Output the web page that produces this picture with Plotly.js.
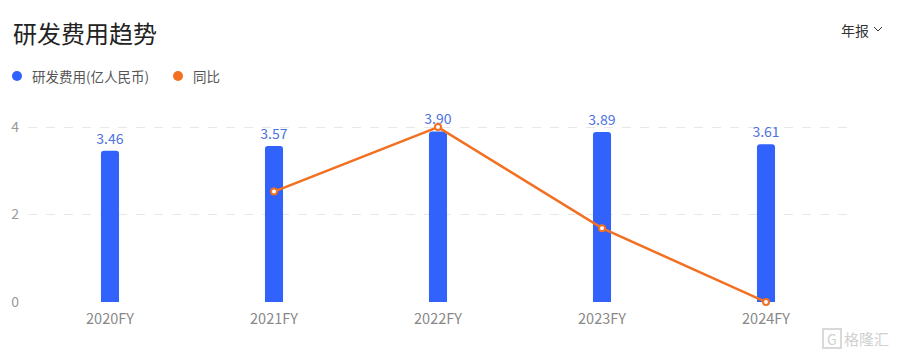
<!DOCTYPE html>
<html>
<head>
<meta charset="utf-8">
<script src="https://cdn.plot.ly/plotly-3.0.1.min.js"></script>
<style>
html,body{margin:0;padding:0;background:#fff;}
#chart{width:897px;height:354px;}
</style>
</head>
<body>
<div id="chart"></div>
<script>
const categories = ["2020FY", "2021FY", "2022FY", "2023FY", "2024FY"];
const rdExpense = [3.46, 3.57, 3.90, 3.89, 3.61];
const yoyCategories = ["2021FY", "2022FY", "2023FY", "2024FY"];
const yoyPct = [3.18, 9.24, -0.26, -7.20];
const yTicks = [0, 2, 4];
const seriesNames = ["研发费用(亿人民币)", "同比"];

const FONT = '"Noto Sans CJK SC", "Noto Sans", sans-serif';
const BLUE = '#3162fb';
const ORANGE = '#f27022';

const traces = [
  {
    type: 'bar', x: categories, y: rdExpense, name: seriesNames[0],
    marker: {color: BLUE, cornerradius: 3}, width: 0.11,
    text: rdExpense.map(v => v.toFixed(2)), textposition: 'outside', constraintext: 'none',
    textfont: {color: '#4d72e3', size: 14, family: FONT},
    cliponaxis: false, showlegend: false, hoverinfo: 'skip'
  },
  {
    type: 'scatter', mode: 'lines+markers', x: yoyCategories, y: yoyPct, yaxis: 'y2',
    name: seriesNames[1], line: {color: ORANGE, width: 2.5},
    marker: {size: 6, color: '#fff', line: {color: ORANGE, width: 2}},
    cliponaxis: false, showlegend: false, hoverinfo: 'skip'
  }
];

const yMax = 4.3;
const y2Min = -7.2, y2PerUnit = (9.24 - (-7.2)) / 4;

const L = 28, R = 49, T = 114, B = 52, W = 897, H = 354;
const plotW = W - L - R, plotH = H - T - B;
function px(xp){ return (xp - L) / plotW; }
function py(yp){ return (H - B - yp) / plotH; }

const layout = {
  width: W, height: H,
  margin: {l: L, r: R, t: T, b: B},
  paper_bgcolor: '#fff', plot_bgcolor: '#fff',
  font: {family: FONT, color: '#888', size: 14},
  showlegend: false,
  xaxis: {type: 'category', range: [-0.5, 4.5], showgrid: false, zeroline: false, showline: false,
    ticks: '', tickfont: {size: 14.5, color: '#888'}, ticklabelstandoff: 6, fixedrange: true},
  yaxis: {range: [0, yMax], tickvals: yTicks, ticktext: yTicks.map(String), showgrid: true,
    gridcolor: '#e8e8e8', griddash: 'dash', gridwidth: 1, zeroline: false, showline: false,
    ticks: '', tickfont: {size: 14, color: '#999'}, ticklabelstandoff: 8, fixedrange: true},
  yaxis2: {overlaying: 'y', side: 'right', range: [y2Min, y2Min + yMax * y2PerUnit],
    visible: false, showgrid: false, zeroline: false, fixedrange: true},
  shapes: [
    {type: 'circle', xref: 'paper', yref: 'paper', x0: px(12), x1: px(22), y0: py(71), y1: py(81),
     fillcolor: BLUE, line: {width: 0}},
    {type: 'circle', xref: 'paper', yref: 'paper', x0: px(173), x1: px(183), y0: py(71), y1: py(81),
     fillcolor: ORANGE, line: {width: 0}},
    {type: 'path', xref: 'paper', yref: 'paper',
     path: `M ${px(874)} ${py(27)} L ${px(878)} ${py(31)} L ${px(882)} ${py(27)}`,
     line: {color: '#333', width: 1}},
    {type: 'rect', xref: 'paper', yref: 'paper', x0: px(823), x1: px(841), y0: py(329), y1: py(348),
     line: {color: '#d9d9d9', width: 2}}
  ],
  annotations: [
    {text: '研发费用趋势', xref: 'paper', yref: 'paper', x: px(11), y: py(32), xanchor: 'left', yanchor: 'middle',
     showarrow: false, font: {size: 24, color: '#222', family: FONT}},
    {text: seriesNames[0], xref: 'paper', yref: 'paper', x: px(30), y: py(76), xanchor: 'left', yanchor: 'middle',
     showarrow: false, font: {size: 13.5, color: '#555', family: FONT}},
    {text: seriesNames[1], xref: 'paper', yref: 'paper', x: px(191), y: py(76), xanchor: 'left', yanchor: 'middle',
     showarrow: false, font: {size: 13.5, color: '#555', family: FONT}},
    {text: '年报', xref: 'paper', yref: 'paper', x: px(871), y: py(30), xanchor: 'right', yanchor: 'middle',
     showarrow: false, font: {size: 14, color: '#333', family: FONT}},
    {text: 'G', xref: 'paper', yref: 'paper', x: px(832), y: py(338.5), xanchor: 'center', yanchor: 'middle',
     showarrow: false, font: {size: 14, color: '#d0d0d0', family: FONT}},
    {text: '格隆汇', xref: 'paper', yref: 'paper', x: px(891), y: py(338.5), xanchor: 'right', yanchor: 'middle',
     showarrow: false, font: {size: 15, color: '#d0d0d0', family: FONT}}
  ]
};

Plotly.newPlot('chart', traces, layout, {displayModeBar: false, staticPlot: true});
</script>
</body>
</html>
